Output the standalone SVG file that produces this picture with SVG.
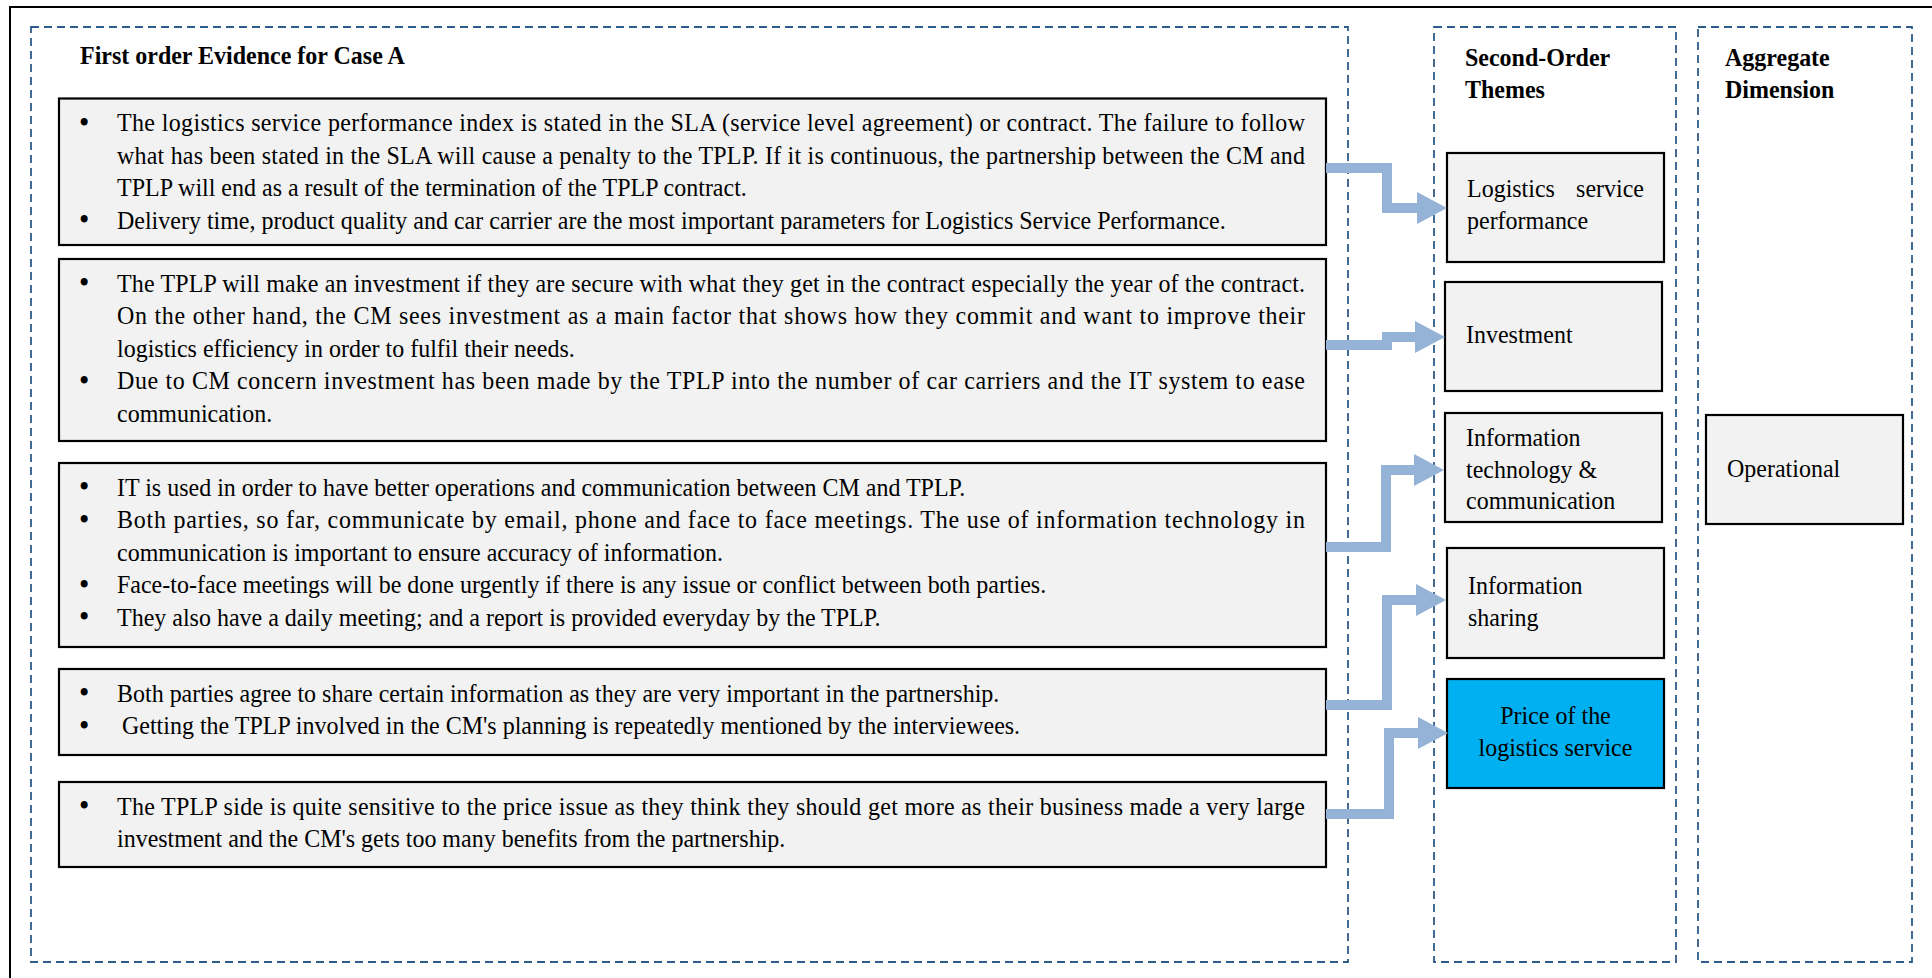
<svg xmlns="http://www.w3.org/2000/svg" width="1932" height="978" viewBox="0 0 1932 978">
  <defs>
    <style>
      .frame { fill: none; stroke: #000; stroke-width: 2; }
      .panel { fill: none; stroke: #2E5C8A; stroke-width: 1.8; stroke-dasharray: 8 5; }
      .box { fill: #F2F2F2; stroke: #000; stroke-width: 2.2; }
      .hl { fill: #00B0F0; stroke: #000; stroke-width: 2.2; }
      .t { font-family: "Liberation Serif", "Times New Roman", serif; font-size: 26px; fill: #000; }
      .b { font-weight: bold; }
      .bul { font-family: "Liberation Serif", "Times New Roman", serif; font-size: 32px; fill: #000; }
      .shaft { fill: none; stroke: #95B3D7; stroke-width: 10; stroke-linejoin: miter; }
      .head { fill: #95B3D7; }
    </style>
  </defs>

  <rect width="1932" height="978" fill="#fff"/>
  <!-- page frame, open to the right and bottom -->
  <rect class="frame" x="10" y="7" width="2000" height="1000"/>

  <!-- column panels; text groups are set in a narrowed serif (x scaled 12/13) -->
  <g id="panel-first-order">
    <rect class="panel" x="31" y="27" width="1317" height="935"/>
    <g transform="scale(0.923077 1)">
      <text class="t b" x="86.667" y="64">First order Evidence for Case A</text>
    </g>
  </g>
  <g id="panel-second-order">
    <rect class="panel" x="1434" y="27" width="242" height="935"/>
    <g transform="scale(0.923077 1)">
      <text class="t b" x="1587.083" y="66">Second-Order</text>
      <text class="t b" x="1587.083" y="98">Themes</text>
    </g>
  </g>
  <g id="panel-aggregate">
    <rect class="panel" x="1698" y="27" width="214" height="935"/>
    <g transform="scale(0.923077 1)">
      <text class="t b" x="1868.75" y="66">Aggregate</text>
      <text class="t b" x="1868.75" y="98">Dimension</text>
    </g>
  </g>

  <!-- evidence boxes -->
  <g id="ev-performance">
    <rect class="box" x="59" y="98.5" width="1267" height="146.5"/>
    <g transform="scale(0.923077 1)">
      <text class="bul" x="85.583" y="133">•</text>
      <text class="t" x="126.75" y="131.5" textLength="1287" lengthAdjust="spacing">The logistics service performance index is stated in the SLA (service level agreement) or contract. The failure to follow</text>
      <text class="t" x="126.75" y="164" textLength="1287" lengthAdjust="spacing">what has been stated in the SLA will cause a penalty to the TPLP. If it is continuous, the partnership between the CM and</text>
      <text class="t" x="126.75" y="196.5">TPLP will end as a result of the termination of the TPLP contract.</text>
      <text class="bul" x="85.583" y="230.5">•</text>
      <text class="t" x="126.75" y="229">Delivery time, product quality and car carrier are the most important parameters for Logistics Service Performance.</text>
    </g>
  </g>

  <g id="ev-investment">
    <rect class="box" x="59" y="259" width="1267" height="182"/>
    <g transform="scale(0.923077 1)">
      <text class="bul" x="85.583" y="293.5">•</text>
      <text class="t" x="126.75" y="292" textLength="1287" lengthAdjust="spacing">The TPLP will make an investment if they are secure with what they get in the contract especially the year of the contract.</text>
      <text class="t" x="126.75" y="324.5" textLength="1287" lengthAdjust="spacing">On the other hand, the CM sees investment as a main factor that shows how they commit and want to improve their</text>
      <text class="t" x="126.75" y="357">logistics efficiency in order to fulfil their needs.</text>
      <text class="bul" x="85.583" y="391">•</text>
      <text class="t" x="126.75" y="389.5" textLength="1287" lengthAdjust="spacing">Due to CM concern investment has been made by the TPLP into the number of car carriers and the IT system to ease</text>
      <text class="t" x="126.75" y="422">communication.</text>
    </g>
  </g>

  <g id="ev-it">
    <rect class="box" x="59" y="463" width="1267" height="184"/>
    <g transform="scale(0.923077 1)">
      <text class="bul" x="85.583" y="497.5">•</text>
      <text class="t" x="126.75" y="496">IT is used in order to have better operations and communication between CM and TPLP.</text>
      <text class="bul" x="85.583" y="530">•</text>
      <text class="t" x="126.75" y="528.5" textLength="1287" lengthAdjust="spacing">Both parties, so far, communicate by email, phone and face to face meetings. The use of information technology in</text>
      <text class="t" x="126.75" y="561">communication is important to ensure accuracy of information.</text>
      <text class="bul" x="85.583" y="595">•</text>
      <text class="t" x="126.75" y="593.5">Face-to-face meetings will be done urgently if there is any issue or conflict between both parties.</text>
      <text class="bul" x="85.583" y="627.5">•</text>
      <text class="t" x="126.75" y="626">They also have a daily meeting; and a report is provided everyday by the TPLP.</text>
    </g>
  </g>

  <g id="ev-sharing">
    <rect class="box" x="59" y="669" width="1267" height="86"/>
    <g transform="scale(0.923077 1)">
      <text class="bul" x="85.583" y="703.5">•</text>
      <text class="t" x="126.75" y="702">Both parties agree to share certain information as they are very important in the partnership.</text>
      <text class="bul" x="85.583" y="736">•</text>
      <text class="t" x="132.167" y="734.5">Getting the TPLP involved in the CM's planning is repeatedly mentioned by the interviewees.</text>
    </g>
  </g>

  <g id="ev-price">
    <rect class="box" x="59" y="782" width="1267" height="85"/>
    <g transform="scale(0.923077 1)">
      <text class="bul" x="85.583" y="816.5">•</text>
      <text class="t" x="126.75" y="815" textLength="1287" lengthAdjust="spacing">The TPLP side is quite sensitive to the price issue as they think they should get more as their business made a very large</text>
      <text class="t" x="126.75" y="847.5">investment and the CM's gets too many benefits from the partnership.</text>
    </g>
  </g>

  <!-- second-order themes -->
  <g id="th-performance">
    <rect class="box" x="1447" y="153" width="217" height="109"/>
    <g transform="scale(0.923077 1)">
      <text class="t" x="1589.25" y="197">Logistics</text>
      <text class="t" x="1781" y="197" text-anchor="end">service</text>
      <text class="t" x="1589.25" y="229">performance</text>
    </g>
  </g>
  <g id="th-investment">
    <rect class="box" x="1445" y="282" width="217" height="109"/>
    <g transform="scale(0.923077 1)">
      <text class="t" x="1588.167" y="343">Investment</text>
    </g>
  </g>
  <g id="th-it">
    <rect class="box" x="1445" y="413" width="217" height="109"/>
    <g transform="scale(0.923077 1)">
      <text class="t" x="1588.167" y="446">Information</text>
      <text class="t" x="1588.167" y="478">technology &amp;</text>
      <text class="t" x="1588.167" y="509">communication</text>
    </g>
  </g>
  <g id="th-sharing">
    <rect class="box" x="1447" y="548" width="217" height="110"/>
    <g transform="scale(0.923077 1)">
      <text class="t" x="1590.333" y="594">Information</text>
      <text class="t" x="1590.333" y="626">sharing</text>
    </g>
  </g>
  <g id="th-price">
    <rect class="hl" x="1447" y="679" width="217" height="109"/>
    <g transform="scale(0.923077 1)">
      <text class="t" x="1685.125" y="724" text-anchor="middle">Price of the</text>
      <text class="t" x="1685.125" y="756" text-anchor="middle">logistics service</text>
    </g>
  </g>

  <!-- aggregate dimension -->
  <g id="agg-operational">
    <rect class="box" x="1706" y="415" width="197" height="109"/>
    <g transform="scale(0.923077 1)">
      <text class="t" x="1870.917" y="477">Operational</text>
    </g>
  </g>

  <!-- connectors: evidence to theme -->
  <g id="connectors">
    <polyline class="shaft" points="1326,168 1387,168 1387,208 1418,208"/>
    <polygon class="head" points="1417,192 1447,208 1417,224"/>

    <polyline class="shaft" points="1326,345 1387,345 1387,337 1416,337"/>
    <polygon class="head" points="1415,321 1445,337 1415,353"/>

    <polyline class="shaft" points="1326,547 1386,547 1386,470 1415,470"/>
    <polygon class="head" points="1414,454 1444,470 1414,486"/>

    <polyline class="shaft" points="1326,705 1387,705 1387,600 1417,600"/>
    <polygon class="head" points="1416,584 1446,600 1416,616"/>

    <polyline class="shaft" points="1326,814 1389,814 1389,733 1419,733"/>
    <polygon class="head" points="1418,717 1448,733 1418,749"/>
  </g>
</svg>
